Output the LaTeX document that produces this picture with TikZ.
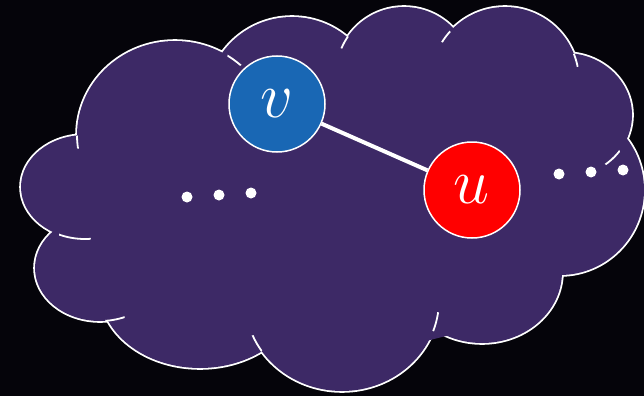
\documentclass[tikz,border=0pt]{standalone}
\usepackage{graphicx}
\begin{document}
\definecolor{nightbg}{RGB}{5,4,10}
\definecolor{cloudfill}{RGB}{61,41,102}
\definecolor{vblue}{RGB}{25,103,180}
\definecolor{ured}{RGB}{255,0,0}
% cloud lobes: centre, x radius, y radius (pixel-like units, y downwards)
\newcommand\lobeA{(85,187) ellipse [x radius=64pt, y radius=52pt]}
\newcommand\lobeB{(175,135) ellipse [x radius=98pt, y radius=94pt]}
\newcommand\lobeC{(292,103) ellipse [x radius=86pt, y radius=86pt]}
\newcommand\lobeD{(404,75) ellipse [x radius=68pt, y radius=68pt]}
\newcommand\lobeE{(505,81) ellipse [x radius=74pt, y radius=74pt]}
\newcommand\lobeF{(565,115) ellipse [x radius=67pt, y radius=62pt]}
\newcommand\lobeG{(560,190) ellipse [x radius=84pt, y radius=85pt]}
\newcommand\lobeH{(482,272) ellipse [x radius=80pt, y radius=71pt]}
\newcommand\lobeI{(342,300) ellipse [x radius=97pt, y radius=91pt]}
\newcommand\lobeJ{(200,290) ellipse [x radius=100pt, y radius=78pt]}
\newcommand\lobeK{(100,268) ellipse [x radius=65pt, y radius=53pt]}
\newcommand\biglabel[1]{\scalebox{2.6}{\Huge$#1$}}
\begin{tikzpicture}[x=1pt,y=-1pt,
  outline/.style={draw=white, line width=3.6pt},
  tail/.style={draw=white, line width=1.8pt},
  vertex/.style={circle, draw=white, line width=1.5pt, minimum size=96pt, inner sep=0pt,
    text=white},
  dot/.style={circle, fill=white, inner sep=0pt, minimum size=11pt}]
\fill[nightbg] (0,0) rectangle (644,396);
\useasboundingbox (0,0) rectangle (644,396);
% outline of every lobe, then the fill hides the inner parts
\draw[outline] \lobeA \lobeB \lobeC \lobeD \lobeE \lobeF \lobeG \lobeH \lobeI \lobeJ \lobeK;
\fill[cloudfill] \lobeA \lobeB \lobeC \lobeD \lobeE \lobeF \lobeG \lobeH \lobeI \lobeJ \lobeK;
\fill[cloudfill] (110,150) -- (200,120) -- (300,110) -- (380,120) -- (470,100) -- (560,110)
  -- (610,160) -- (600,220) -- (555,270) -- (470,330) -- (350,360) -- (200,340) -- (110,300) -- cycle;
% short overshooting strokes where lobes meet
\begin{scope}\clip (80,142) circle (7pt); \draw[tail] \lobeB; \end{scope}
\begin{scope}\clip (236,58) circle (9pt); \draw[tail] \lobeB; \end{scope}
\begin{scope}\clip (344,42) circle (7pt); \draw[tail] \lobeD; \end{scope}
\begin{scope}\clip (445,36) circle (7pt); \draw[tail] \lobeE; \end{scope}
\begin{scope}\clip (577,60) circle (7pt); \draw[tail] \lobeE; \end{scope}
\begin{scope}\clip (612,157) circle (10pt); \draw[tail] \lobeF; \end{scope}
\begin{scope}\clip (437,322) circle (10pt); \draw[tail] \lobeI; \end{scope}
\begin{scope}\clip (254,345) circle (10pt); \draw[tail] \lobeI; \end{scope}
\begin{scope}\clip (115,319) circle (10pt); \draw[tail] \lobeK; \end{scope}
\begin{scope}\clip (75,236) circle (16pt); \draw[tail] \lobeA; \end{scope}
% vertices and their edge
\node[vertex, fill=vblue] (v) at (277,104) {\biglabel{v}};
\node[vertex, fill=ured] (u) at (472,190) {\biglabel{u}};
\draw[white, line width=4pt] (v) -- (u);
% ellipsis dots
\node[dot] (l1) at (187,197) {};
\node[dot] (l2) at (219,195) {};
\node[dot] (l3) at (251,193) {};
\node[dot] (r1) at (559,174) {};
\node[dot] (r2) at (591,172) {};
\node[dot] (r3) at (623,170) {};
\end{tikzpicture}
\end{document}
